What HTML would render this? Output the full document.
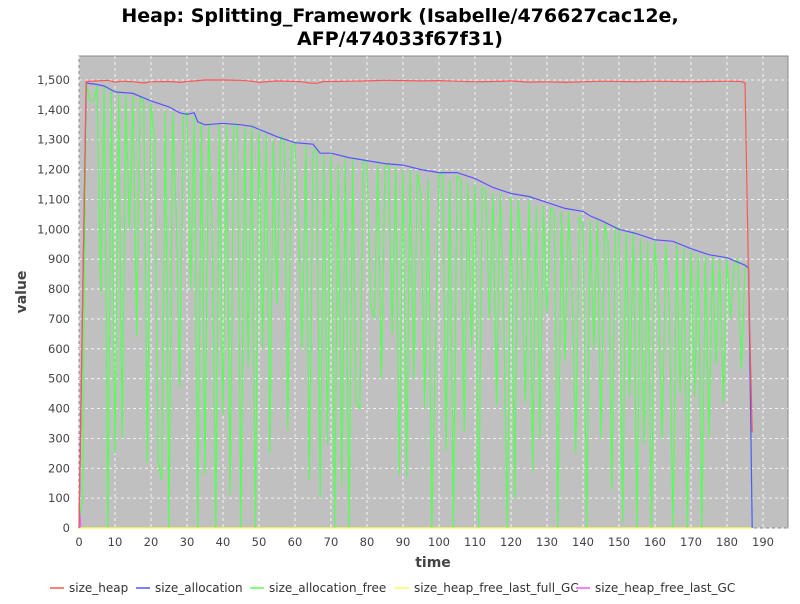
<!DOCTYPE html>
<html><head><meta charset="utf-8"><style>
body{margin:0;background:#fff;font-family:"DejaVu Sans","Liberation Sans",sans-serif}
svg text{font-family:"DejaVu Sans","Liberation Sans",sans-serif}
</style></head><body>
<svg id="c" width="800" height="600" xmlns="http://www.w3.org/2000/svg">
<text x="400" y="22" text-anchor="middle" font-size="19" font-weight="bold">Heap: Splitting_Framework (Isabelle/476627cac12e,</text>
<text x="400" y="45" text-anchor="middle" font-size="19" font-weight="bold">AFP/474033f67f31)</text>
<rect x="79" y="56" width="709" height="472" fill="#c0c0c0" stroke="#888"/>
<g id="grid"></g><g id="series"></g><g id="axes"></g>
<text x="433" y="567" text-anchor="middle" font-size="14" font-weight="bold" fill="#444">time</text>
<text transform="translate(26,292) rotate(-90)" text-anchor="middle" font-size="14" font-weight="bold" fill="#444">value</text>
<g id="legend"></g>
</svg>
<script>
const heapT=[0,1,2,5,8,10,12,15,18,20,25,28,30,35,40,45,48,50,55,60,62,64,66,68,70,75,80,85,90,95,100,105,110,115,120,125,130,135,140,145,150,155,160,165,170,175,180,184,185,186,187];
const heapV=[0,750,1495,1497,1499,1493,1496,1494,1490,1494,1495,1492,1495,1500,1500,1499,1496,1492,1497,1495,1494,1490,1489,1495,1495,1496,1497,1499,1498,1497,1498,1496,1494,1495,1497,1493,1494,1492,1494,1496,1495,1494,1496,1495,1494,1495,1496,1495,1490,830,320];
const allocT=[0,1,2,5,7,10,15,18,20,25,28,30,32,33,35,40,45,48,50,55,60,65,67,70,75,80,85,90,95,100,105,110,115,120,125,130,135,140,142,145,150,155,160,165,170,175,180,185,186,187];
const allocV=[0,750,1490,1485,1480,1460,1455,1440,1430,1410,1390,1385,1390,1360,1350,1355,1350,1345,1335,1310,1290,1285,1255,1255,1240,1230,1220,1215,1200,1190,1190,1170,1140,1120,1110,1090,1070,1060,1045,1030,1000,985,965,960,935,915,905,880,870,0];
const freeV=[0,110,1490,1430,1430,1480,790,1480,0,1470,250,1460,300,1450,1000,1450,640,1440,1430,220,1420,1300,220,160,1400,0,1390,1050,470,1380,1390,800,1380,0,1360,180,1350,1000,0,1350,380,1350,110,1350,1350,0,1340,540,1350,0,1330,600,1320,250,1300,750,1310,1300,330,1280,1290,1000,600,1280,160,1260,1270,100,1250,280,1250,0,1220,140,1240,0,1240,420,400,1230,1220,750,700,1220,500,1210,1220,650,1210,180,1200,170,1200,500,1190,1120,400,1170,0,600,1180,1190,260,1170,0,1180,1170,320,1160,600,1150,0,1140,1130,700,1120,410,1120,700,0,1110,100,1100,870,420,1100,190,1080,300,1080,720,1070,1060,0,1060,560,1060,780,250,1040,1020,0,1030,600,1030,300,1020,950,130,1010,1000,20,990,440,990,0,970,280,960,0,960,740,300,950,740,0,950,450,940,0,930,440,920,0,910,300,910,550,900,420,900,700,880,900,530,880,870,0];
const yTicks=[0,100,200,300,400,500,600,700,800,900,1000,1100,1200,1300,1400,1500];
const xTicks=[0,10,20,30,40,50,60,70,80,90,100,110,120,130,140,150,160,170,180,190];
const NS="http://www.w3.org/2000/svg";
const X=t=>79+t*3.6, Y=v=>528-v*0.29867;
function mk(tag,attrs,parent){const e=document.createElementNS(NS,tag);for(const k in attrs)e.setAttribute(k,attrs[k]);parent.appendChild(e);return e;}
const grid=document.getElementById('grid'),axes=document.getElementById('axes'),series=document.getElementById('series'),legend=document.getElementById('legend');
yTicks.forEach(v=>{
 const l=mk('line',{x1:79,x2:788,y1:Y(v),y2:Y(v),stroke:'#fff','stroke-dasharray':'3,3','stroke-width':0.8},grid);
 
 
 const t=mk('text',{x:70,y:Y(v)+4,'text-anchor':'end','font-size':11.5,fill:'#444'},axes);
 t.textContent=v.toLocaleString('en-US');
 
 
});
xTicks.forEach(v=>{
 const l=mk('line',{x1:X(v),x2:X(v),y1:56,y2:528,stroke:'#fff','stroke-dasharray':'3,3','stroke-width':0.8},grid);
 
 
 const t=mk('text',{x:X(v),y:546,'text-anchor':'middle','font-size':11.5,fill:'#444'},axes);
 t.textContent=v;
 
 
});
function path(ts,vs,col,name){
 const d=vs.map((v,i)=>(i?'L':'M')+X(ts[i]).toFixed(1)+','+Y(v).toFixed(1)).join('');
 const p=mk('path',{d:d,fill:'none',stroke:col,'stroke-width':1.2},series);
 
 
}
path(freeV.map((v,i)=>i),freeV,'#55ff55','size-allocation-free-line');
path([0,0.3,0.5],[80,40,0],'#ff55ff','size-heap-free-last-gc-line');
path([0,187],[0,0],'#ffff55','size-heap-free-last-full-gc-line');
path(allocT,allocV,'#5555ff','size-allocation-line');
path(heapT,heapV,'#ff5555','size-heap-line');
const items=[['size_heap','#ff5555'],['size_allocation','#5555ff'],['size_allocation_free','#55ff55'],['size_heap_free_last_full_GC','#ffff55'],['size_heap_free_last_GC','#ff55ff']];
const lx=[50,136,250,395,576];
items.forEach((it,i)=>{
 const g=mk('g',{},legend);
 
 
 mk('line',{x1:lx[i],x2:lx[i]+14,y1:588,y2:588,stroke:it[1],'stroke-width':1.5},g);
 const t=mk('text',{x:lx[i]+19,y:592,'font-size':12,fill:'#333'},g);
 t.textContent=it[0];
});
</script>
</body></html>
